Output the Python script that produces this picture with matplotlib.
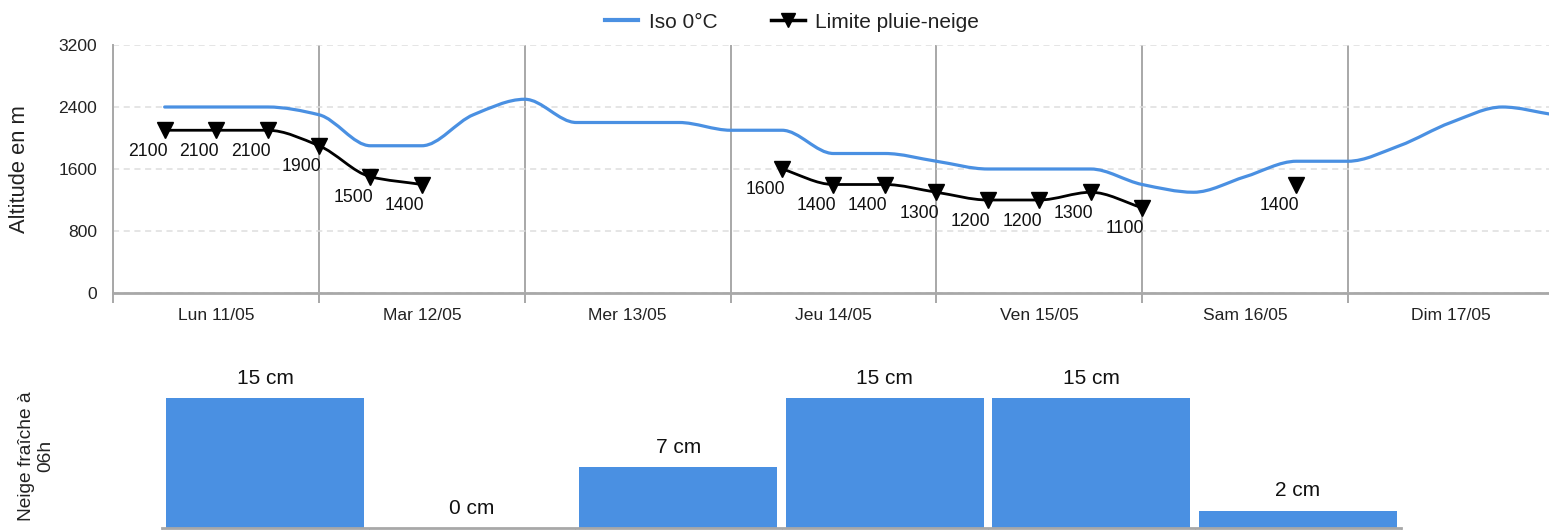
import numpy as np
import matplotlib
matplotlib.use("Agg")
import matplotlib.pyplot as plt
from matplotlib.path import Path
from matplotlib.patches import PathPatch
from matplotlib.lines import Line2D

plt.rcParams['font.family'] = ['Liberation Sans', 'DejaVu Sans']

# time in days from Lun 11/05 00h, every 6h
times = [0.25, 0.5, 0.75, 1.0, 1.25, 1.5, 1.75, 2.0, 2.25, 2.5, 2.75, 3.0, 3.25, 3.5,
         3.75, 4.0, 4.25, 4.5, 4.75, 5.0, 5.25, 5.5, 5.75, 6.0, 6.25, 6.5, 6.75, 7.0]
iso0 = [2400, 2400, 2400, 2300, 1900, 1900, 2300, 2500, 2200, 2200, 2200, 2100, 2100, 1800,
        1800, 1700, 1600, 1600, 1600, 1400, 1300, 1500, 1700, 1700, 1900, 2200, 2400, 2300]
nan = np.nan
snow_limit = [2100, 2100, 2100, 1900, 1500, 1400, nan, nan, nan, nan, nan, nan, 1600, 1400,
              1400, 1300, 1200, 1200, 1300, 1100, nan, nan, 1400, nan, nan, nan, nan, nan]

days = ["Lun 11/05", "Mar 12/05", "Mer 13/05", "Jeu 14/05", "Ven 15/05", "Sam 16/05", "Dim 17/05"]

snow_cm = [15, 0, 7, 15, 15, 2]

BLUE = "#4a90e2"
GRID = "#a8a8a8"


def smooth_path(x, y):
    # monotone cubic (Fritsch-Carlson style) drawn as Bezier segments
    x = np.asarray(x, float)
    y = np.asarray(y, float)
    n = len(x)
    if n == 1:
        return None
    h = np.diff(x)
    d = np.diff(y) / h
    m = np.zeros(n)
    m[0], m[-1] = d[0], d[-1]
    for i in range(1, n - 1):
        if d[i - 1] * d[i] > 0:
            m[i] = 2.0 / (1.0 / d[i - 1] + 1.0 / d[i])
    verts = [(x[0], y[0])]
    codes = [Path.MOVETO]
    for i in range(n - 1):
        verts += [(x[i] + h[i] / 3, y[i] + m[i] * h[i] / 3),
                  (x[i + 1] - h[i] / 3, y[i + 1] - m[i + 1] * h[i] / 3),
                  (x[i + 1], y[i + 1])]
        codes += [Path.CURVE4] * 3
    return Path(verts, codes)


fig = plt.figure(figsize=(15.49, 5.30), dpi=100)

# ---- top chart
ax = fig.add_axes([113.2 / 1549, 237 / 530, 1435.8 / 1549, 248 / 530])
ax.set_xlim(0, 6.977)
ax.set_ylim(0, 3200)

ax.add_patch(PathPatch(smooth_path(times, iso0), fill=False, edgecolor=BLUE,
                       lw=2.3, capstyle='round', zorder=3))

t = np.array(times)
s = np.array(snow_limit, float)
ok = ~np.isnan(s)
# contiguous runs
runs = []
cur = []
for i in range(len(t)):
    if ok[i]:
        cur.append(i)
    elif cur:
        runs.append(cur)
        cur = []
if cur:
    runs.append(cur)
for r in runs:
    p = smooth_path(t[r], s[r])
    if p is not None:
        ax.add_patch(PathPatch(p, fill=False, edgecolor='black', lw=2.0, zorder=4))
ax.plot(t[ok], s[ok], linestyle='none', marker='v', ms=11.5, color='black', zorder=5)
for xi, yi in zip(t[ok], s[ok]):
    ax.annotate(f"{int(yi)}", (xi, yi), xytext=(-17, -21), textcoords='offset pixels',
                ha='center', va='center', fontsize=12.7, color='#111')

ax.set_yticks([0, 800, 1600, 2400, 3200])
ax.grid(axis='y', color='#dedede', linestyle=(0, (4, 3)), lw=1.1)
ax.set_xticks(range(0, 7))
ax.set_xticks(np.arange(0.5, 7, 1), minor=True)
ax.set_xticklabels([])
ax.set_xticklabels(days, minor=True)
ax.grid(axis='x', which='major', color=GRID, lw=1.4)
ax.tick_params(axis='x', which='major', length=7, width=1.4, color=GRID)
ax.tick_params(axis='x', which='minor', length=0, pad=11, labelsize=12.6, labelcolor='#222')
ax.tick_params(axis='y', length=0, pad=11.5, labelsize=12.6, labelcolor='#222')
for sp in ['top', 'right']:
    ax.spines[sp].set_visible(False)
ax.spines['left'].set_color(GRID)
ax.spines['left'].set_linewidth(1.4)
ax.spines['bottom'].set_color(GRID)
ax.spines['bottom'].set_linewidth(2)
ax.set_axisbelow(True)
ax.set_ylabel("Altitude en m", fontsize=15.8, color='#222')
ax.yaxis.set_label_coords(-0.058, 0.5)

handles = [Line2D([], [], color=BLUE, lw=3),
           Line2D([], [], color='black', lw=2.5, marker='v', ms=10)]
fig.legend(handles, ["Iso 0°C", "Limite pluie-neige"], loc='center',
           bbox_to_anchor=(792 / 1549, 1 - 22 / 530), ncol=2, frameon=False,
           fontsize=15, handlelength=1.6, columnspacing=2.6, handletextpad=0.5,
           labelcolor='#222')

# ---- bottom chart
bx = fig.add_axes([162 / 1549, 2 / 530, 1239 / 1549, 173 / 530])
cats = np.arange(len(snow_cm))
bars = bx.bar(cats, snow_cm, width=0.96, color=BLUE, zorder=2)
bx.set_xlim(-0.5, len(snow_cm) - 0.5)
bx.set_ylim(0, 20)
for c, v in zip(cats, snow_cm):
    bx.annotate(f"{v} cm", (c, v), xytext=(0, 20), textcoords='offset pixels',
                ha='center', va='center', fontsize=15, color='#111')
bx.set_yticks([])
bx.set_xticks([])
bx.set_xticks(np.arange(-0.5, len(snow_cm)), minor=True)
bx.tick_params(axis='x', which='minor', length=3, color=GRID, labelbottom=False)
for sp in ['top', 'right', 'left']:
    bx.spines[sp].set_visible(False)
bx.spines['bottom'].set_color(GRID)
bx.spines['bottom'].set_linewidth(2)

fig.text(36 / 1549, 1 - 456 / 530, "Neige fraîche à\n06h", rotation=90, ha='center',
         va='center', multialignment='center', fontsize=13.8, color='#222', linespacing=1.2)

fig.savefig("out.png", dpi=100)
